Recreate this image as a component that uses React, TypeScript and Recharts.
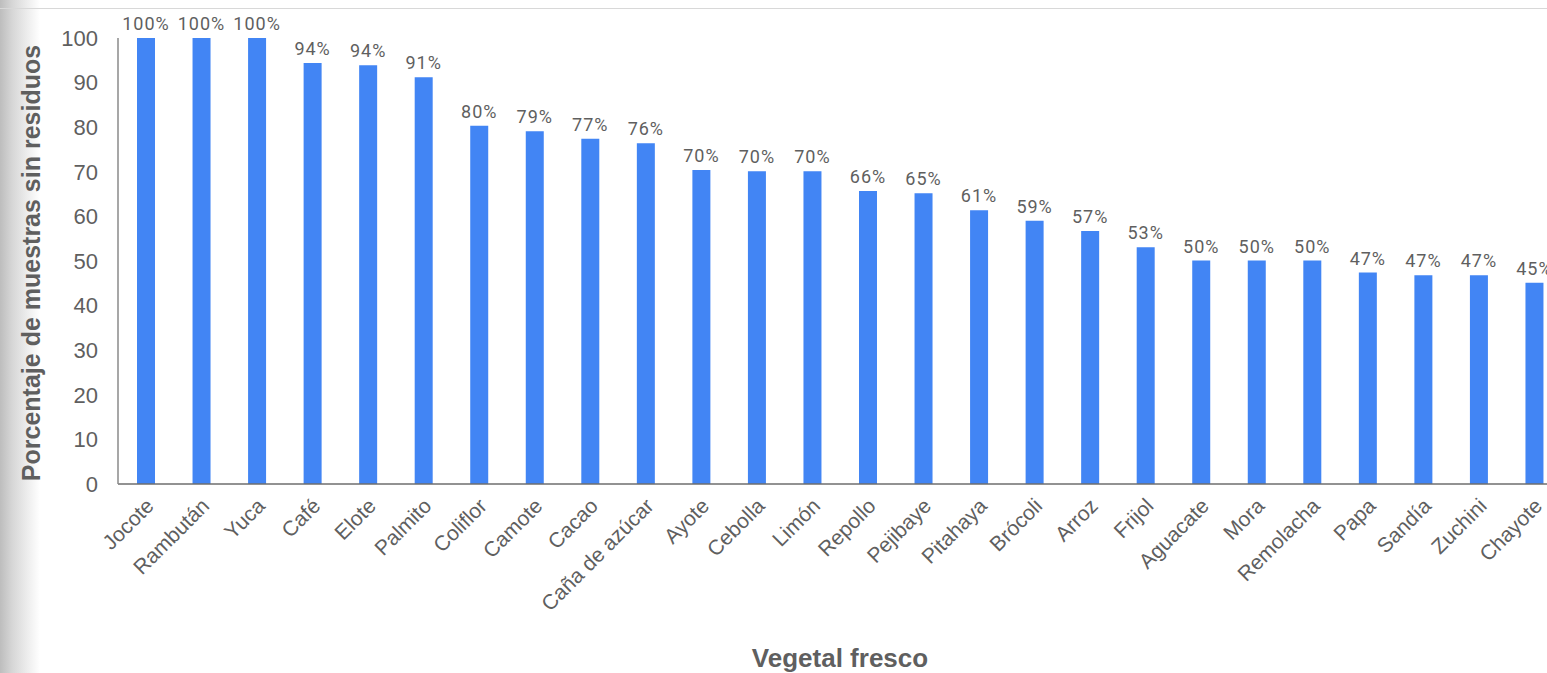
import { BarChart, Bar, XAxis, YAxis, LabelList, Label } from 'recharts';

const categories = [
  'Jocote', 'Rambután', 'Yuca', 'Café', 'Elote', 'Palmito', 'Coliflor', 'Camote', 'Cacao',
  'Caña de azúcar', 'Ayote', 'Cebolla', 'Limón', 'Repollo', 'Pejibaye', 'Pitahaya', 'Brócoli',
  'Arroz', 'Frijol', 'Aguacate', 'Mora', 'Remolacha', 'Papa', 'Sandía', 'Zuchini', 'Chayote',
];

const percentages = [
  100, 100, 100, 94.4, 93.9, 91.2, 80.3, 79.1, 77.4, 76.4, 70.4, 70.1, 70.1, 65.7, 65.2, 61.4,
  59.0, 56.7, 53.1, 50.1, 50.1, 50.1, 47.4, 46.8, 46.8, 45.1,
];

const yTicks = [0, 10, 20, 30, 40, 50, 60, 70, 80, 90, 100];

const data = categories.map((name, i) => ({ name, value: percentages[i] }));

const textColor = '#5f5f5f';
const font = "'Liberation Sans', Arial, sans-serif";

const RotatedTick = (props: any) => {
  const { x, y, payload } = props;
  return (
    <text
      x={x + 4}
      y={y}
      transform={`rotate(-45 ${x + 4} ${y})`}
      textAnchor="end"
      dominantBaseline="central"
      fill={textColor}
      fontSize={21}
      fontFamily={font}
    >
      {payload.value}
    </text>
  );
};

export default function App() {
  return (
    <div style={{ position: 'absolute', left: 0, top: 0, width: 1547, height: 673, overflow: 'hidden', background: '#fff' }}>
      <div style={{ position: 'absolute', left: 0, top: 0, width: 40, height: 673, background: 'linear-gradient(to right, #bdbdbd, #d6d6d6 30%, #eeeeee 70%, #ffffff)' }} />
      <div style={{ position: 'absolute', left: 0, top: 8, width: 1547, height: 1, background: '#d8d8d8' }} />
      <div style={{ position: 'absolute', left: 0, top: 0 }}>
        <BarChart
          width={1562}
          height={673}
          data={data}
          margin={{ top: 38, right: 0, left: 0, bottom: 0 }}
          barCategoryGap={0}
        >
          <XAxis
            dataKey="name"
            interval={0}
            height={189}
            tick={<RotatedTick />}
            tickLine={false}
            tickSize={0}
            tickMargin={18}
            axisLine={{ stroke: '#6e6e6e', strokeWidth: 1.5 }}
          >
            <Label
              value="Vegetal fresco"
              position="insideBottom"
              offset={6}
              fill={textColor}
              fontSize={26}
              fontWeight="bold"
              fontFamily={font}
            />
          </XAxis>
          <YAxis
            width={118}
            domain={[0, 100]}
            ticks={yTicks}
            interval={0}
            tickLine={false}
            tickSize={0}
            tickMargin={20}
            axisLine={{ stroke: '#8a8a8a', strokeWidth: 1.5 }}
            tick={{ fill: textColor, fontSize: 22, fontFamily: font }}
          >
            <Label
              content={() => (
                <text
                  x={31}
                  y={263}
                  transform="rotate(-90 31 263)"
                  textAnchor="middle"
                  dominantBaseline="central"
                  fill={textColor}
                  fontSize={25}
                  fontWeight="bold"
                  fontFamily={font}
                >
                  Porcentaje de muestras sin residuos
                </text>
              )}
            />
          </YAxis>
          <Bar dataKey="value" fill="#4285f4" barSize={18} isAnimationActive={false}>
            <LabelList
              dataKey="value"
              position="top"
              offset={8}
              formatter={(v: any) => `${Math.round(Number(v))}%`}
              fill={textColor}
              fontSize={18}
              letterSpacing={1}
              fontFamily="Roboto, sans-serif"
            />
          </Bar>
        </BarChart>
      </div>
    </div>
  );
}
